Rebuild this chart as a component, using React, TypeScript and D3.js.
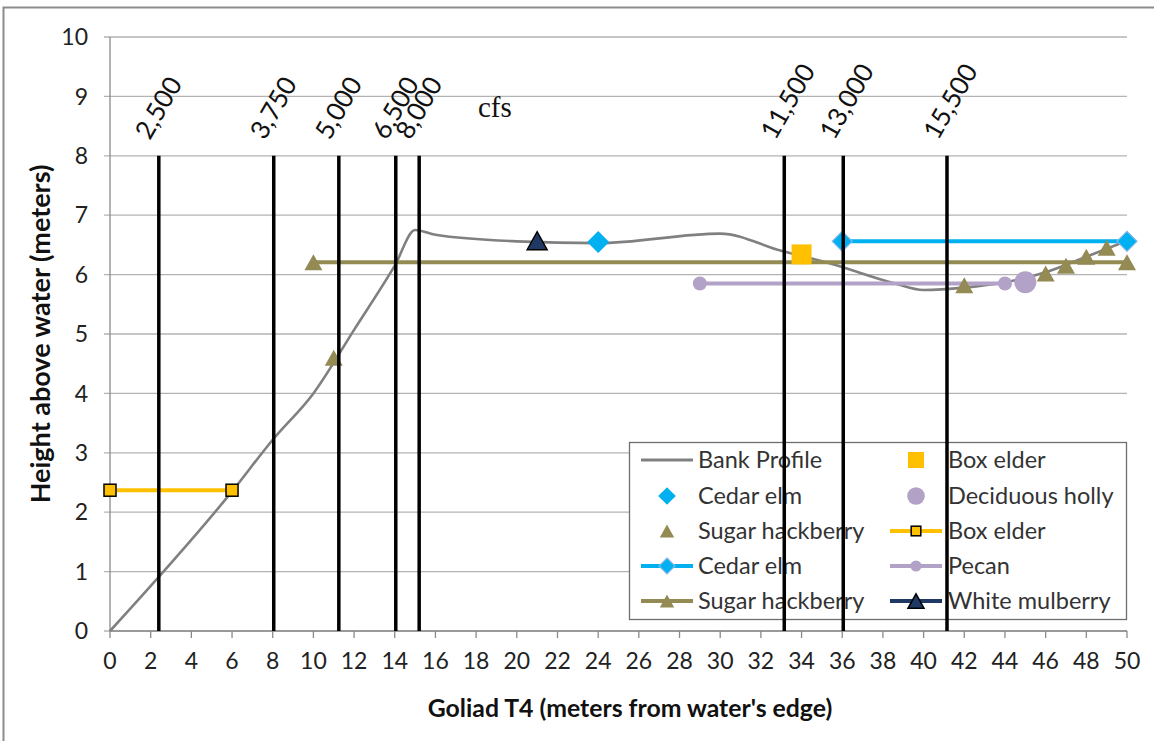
import React from "react";
import * as d3 from "d3";

// ---- data ----
const bankX = [0, 6, 8, 10, 12, 14, 15, 16, 20, 24, 30, 33, 35.5, 38.5, 40, 42, 44, 46, 48, 50];
const bankY = [0, 2.35, 3.22, 4, 5.07, 6.15, 6.75, 6.67, 6.56, 6.53, 6.69, 6.4, 6.18, 5.86, 5.74, 5.78, 5.87, 6.04, 6.3, 6.57];

const flowX = [2.4, 8.05, 11.25, 14.05, 15.2, 33.15, 36.05, 41.15];
const flowLabels = ["2,500", "3,750", "5,000", "6,500", "8,000", "11,500", "13,000", "15,500"];

const boxElderLineX = [0, 6];
const boxElderLineY = [2.37, 2.37];
const cedarElmLineX = [36, 50];
const cedarElmLineY = [6.56, 6.56];
const pecanLineX = [29, 44];
const pecanLineY = [5.85, 5.85];
const sugarLineX = [10, 50];
const sugarLineY = [6.21, 6.21];
const whiteMulberryX = [21];
const whiteMulberryY = [6.57];

const boxElderPtX = [34];
const boxElderPtY = [6.34];
const cedarElmPtX = [24];
const cedarElmPtY = [6.55];
const hollyPtX = [45];
const hollyPtY = [5.87];
const sugarPtX = [11, 42, 46, 47, 48, 49];
const sugarPtY = [4.6, 5.82, 6.02, 6.15, 6.3, 6.45];

const yTicks = [0, 1, 2, 3, 4, 5, 6, 7, 8, 9, 10];
const xTicks = d3.range(0, 51, 2);

const C = {
  bank: "#808080",
  box: "#FFC000",
  cedar: "#00B0F0",
  sugar: "#948A54",
  pecan: "#B3A2C7",
  mulberry: "#1F3864",
  grid: "#b3b3b3",
  axis: "#8a8a8a",
};

const FONT = "Lato, 'Open Sans', sans-serif";

const x = d3.scaleLinear().domain([0, 50]).range([110, 1127]);
const y = d3.scaleLinear().domain([0, 10]).range([631, 37]);

const zip = (xs: number[], ys: number[]) => xs.map((v, i) => [v, ys[i]] as [number, number]);

const tri = (cx: number, cy: number, w: number, h: number) =>
  `M${cx - w / 2},${cy + h / 2}L${cx},${cy - h / 2}L${cx + w / 2},${cy + h / 2}Z`;
const diamond = (cx: number, cy: number, r: number) =>
  `M${cx},${cy - r}L${cx + r},${cy}L${cx},${cy + r}L${cx - r},${cy}Z`;

function Sym({ kind, cx, cy, s = 1 }: { kind: string; cx: number; cy: number; s?: number }) {
  switch (kind) {
    case "cedar":
      return <path d={diamond(cx, cy, 11 * s)} fill={C.cedar} />;
    case "cedarL":
      return <path d={diamond(cx, cy, 10 * s)} fill={C.cedar} stroke="#86b6e6" strokeWidth={1.2} />;
    case "sugar":
      return <path d={tri(cx, cy, 18 * s, 16 * s)} fill={C.sugar} />;
    case "box":
      return <rect x={cx - 10 * s} y={cy - 10 * s} width={20 * s} height={20 * s} fill={C.box} />;
    case "boxL":
      return <rect x={cx - 6 * s} y={cy - 6 * s} width={12 * s} height={12 * s} fill={C.box} stroke="#000" strokeWidth={1.5} />;
    case "holly":
      return <circle cx={cx} cy={cy} r={11 * s} fill={C.pecan} />;
    case "pecan":
      return <circle cx={cx} cy={cy} r={7 * s} fill={C.pecan} />;
    case "mulberry":
      return <path d={tri(cx, cy, 20 * s, 18 * s)} fill={C.mulberry} stroke="#000" strokeWidth={1.5} />;
    default:
      return null;
  }
}

export default function App() {
  const bankLine = d3
    .line<[number, number]>()
    .x((d) => x(d[0]))
    .y((d) => y(d[1]))
    .curve(d3.curveMonotoneX);
  const straight = d3
    .line<[number, number]>()
    .x((d) => x(d[0]))
    .y((d) => y(d[1]));

  const legendCol1 = [
    { label: "Bank Profile", line: C.bank, lw: 3, sym: "" },
    { label: "Cedar elm", line: "", lw: 0, sym: "cedar" },
    { label: "Sugar hackberry", line: "", lw: 0, sym: "sugar" },
    { label: "Cedar elm", line: C.cedar, lw: 4, sym: "cedarL" },
    { label: "Sugar hackberry", line: C.sugar, lw: 4, sym: "sugar" },
  ];
  const legendCol2 = [
    { label: "Box elder", line: "", lw: 0, sym: "box" },
    { label: "Deciduous holly", line: "", lw: 0, sym: "holly" },
    { label: "Box elder", line: C.box, lw: 4, sym: "boxL" },
    { label: "Pecan", line: C.pecan, lw: 4, sym: "pecan" },
    { label: "White mulberry", line: C.mulberry, lw: 4, sym: "mulberry" },
  ];
  const legendRowY = [460, 496, 531, 566, 601];

  const renderLegendCol = (items: typeof legendCol1, cx: number, tx: number) =>
    items.map((it, i) => {
      const cy = legendRowY[i];
      return (
        <g key={i}>
          {it.line && <line x1={cx - 26} x2={cx + 26} y1={cy} y2={cy} stroke={it.line} strokeWidth={it.lw} />}
          {it.sym && <Sym kind={it.sym} cx={cx} cy={cy} s={0.8} />}
          <text x={tx} y={cy} dy="0.36em" fontFamily={FONT} fontSize={23.5} fill="#333">
            {it.label}
          </text>
        </g>
      );
    });

  return (
    <svg
      width={1154}
      height={741}
      style={{ position: "absolute", left: 0, top: 0, background: "#fff" }}
    >
      {/* outer frame */}
      <path d="M3.5,741V7.5H1154" fill="none" stroke="#8c8c8c" strokeWidth={2} />

      {/* gridlines */}
      {yTicks.map((t) => (
        <line key={t} x1={104} x2={1127} y1={y(t)} y2={y(t)} stroke={C.grid} strokeWidth={1.3} />
      ))}
      {/* axes */}
      <line x1={x(0)} x2={x(0)} y1={y(0)} y2={y(10)} stroke={C.axis} strokeWidth={1.3} />
      <line x1={x(0)} x2={x(50)} y1={y(0)} y2={y(0)} stroke={C.axis} strokeWidth={1.3} />
      {xTicks.map((t) => (
        <line key={t} x1={x(t)} x2={x(t)} y1={y(0)} y2={y(0) + 7} stroke={C.axis} strokeWidth={1.3} />
      ))}
      {yTicks.map((t) => (
        <text key={t} x={88} y={y(t)} dy="0.36em" textAnchor="end" fontFamily={FONT} fontSize={23} fill="#222">
          {t}
        </text>
      ))}
      {xTicks.map((t) => (
        <text key={t} x={x(t)} y={669} textAnchor="middle" fontFamily={FONT} fontSize={23} fill="#222">
          {t}
        </text>
      ))}

      {/* axis titles */}
      <text
        transform={`translate(50,${(y(0) + y(10)) / 2}) rotate(-90)`}
        textAnchor="middle"
        fontFamily={FONT}
        fontWeight="bold"
        fontSize={27}
        fill="#111"
      >
        Height above water (meters)
      </text>
      <text x={630} y={717} textAnchor="middle" fontFamily={FONT} fontWeight="bold" fontSize={24.8} fill="#111">
        Goliad T4 (meters from water's edge)
      </text>

      {/* bank profile */}
      <path d={bankLine(zip(bankX, bankY)) || ""} fill="none" stroke={C.bank} strokeWidth={2.6} />

      {/* series lines */}
      <path d={straight(zip(boxElderLineX, boxElderLineY)) || ""} stroke={C.box} strokeWidth={4} fill="none" />
      <path d={straight(zip(cedarElmLineX, cedarElmLineY)) || ""} stroke={C.cedar} strokeWidth={4} fill="none" />
      <path d={straight(zip(pecanLineX, pecanLineY)) || ""} stroke={C.pecan} strokeWidth={4} fill="none" />
      <path d={straight(zip(sugarLineX, sugarLineY)) || ""} stroke={C.sugar} strokeWidth={4} fill="none" />

      {/* markers */}
      {zip(sugarLineX, sugarLineY).map((d, i) => (
        <Sym key={"sl" + i} kind="sugar" cx={x(d[0])} cy={y(d[1])} />
      ))}
      {zip(pecanLineX, pecanLineY).map((d, i) => (
        <Sym key={"pl" + i} kind="pecan" cx={x(d[0])} cy={y(d[1])} />
      ))}
      {zip(cedarElmLineX, cedarElmLineY).map((d, i) => (
        <Sym key={"cl" + i} kind="cedarL" cx={x(d[0])} cy={y(d[1])} />
      ))}
      {zip(boxElderLineX, boxElderLineY).map((d, i) => (
        <Sym key={"bl" + i} kind="boxL" cx={x(d[0])} cy={y(d[1])} />
      ))}
      {zip(sugarPtX, sugarPtY).map((d, i) => (
        <Sym key={"sp" + i} kind="sugar" cx={x(d[0])} cy={y(d[1])} />
      ))}
      {zip(hollyPtX, hollyPtY).map((d, i) => (
        <Sym key={"hp" + i} kind="holly" cx={x(d[0])} cy={y(d[1])} />
      ))}
      {zip(cedarElmPtX, cedarElmPtY).map((d, i) => (
        <Sym key={"cp" + i} kind="cedar" cx={x(d[0])} cy={y(d[1])} />
      ))}
      {zip(boxElderPtX, boxElderPtY).map((d, i) => (
        <Sym key={"bp" + i} kind="box" cx={x(d[0])} cy={y(d[1])} />
      ))}
      {zip(whiteMulberryX, whiteMulberryY).map((d, i) => (
        <Sym key={"wm" + i} kind="mulberry" cx={x(d[0])} cy={y(d[1])} />
      ))}

      {/* legend */}
      <rect x={629.5} y={442.5} width={497} height={177} fill="#fff" stroke="#6e6e6e" strokeWidth={1.3} />
      {renderLegendCol(legendCol1, 667, 698)}
      {renderLegendCol(legendCol2, 916, 948)}

      {/* flow lines */}
      {flowX.map((f, i) => (
        <g key={"f" + i}>
          <line x1={x(f)} x2={x(f)} y1={y(8)} y2={y(0)} stroke="#000" strokeWidth={3.5} />
          <text
            transform={`translate(${x(f) - 9},141) rotate(-60)`}
            fontFamily={FONT}
            fontSize={26}
            fill="#111"
          >
            {flowLabels[i]}
          </text>
        </g>
      ))}
      <text x={478} y={117} fontFamily="'Liberation Serif', serif" fontSize={29} fill="#111">
        cfs
      </text>
    </svg>
  );
}
